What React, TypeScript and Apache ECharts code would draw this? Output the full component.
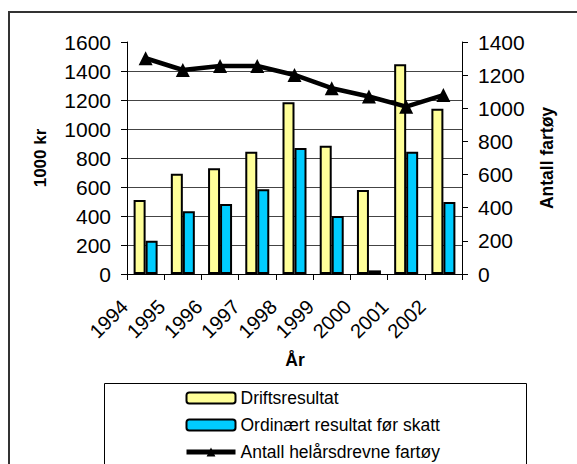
import React, { useEffect, useRef } from "react";
import * as echarts from "echarts";

const years = ["1994", "1995", "1996", "1997", "1998", "1999", "2000", "2001", "2002"];
const driftsresultat = [510, 692, 729, 843, 1184, 885, 579, 1446, 1140];
const ordinaertResultat = [230, 432, 483, 584, 869, 400, 25, 843, 497];
const antallFartoy = [1302, 1231, 1255, 1255, 1201, 1121, 1071, 1010, 1080];
const leftTicks = { min: 0, max: 1600, interval: 200 };
const rightTicks = { min: 0, max: 1400, interval: 200 };

const FONT = "Arial, 'Liberation Sans', sans-serif";

export default function App() {
  const ref = useRef<HTMLDivElement>(null);
  useEffect(() => {
    if (!ref.current) return;
    const chart = echarts.init(ref.current, null, { renderer: "svg" });
    const gridColors = ["#444", "#444", "#444", "#444", "#444", "#444", "#444", "#444", "transparent"];
    const plain = (v: number) => String(v);
    chart.setOption({
      animation: false,
      backgroundColor: "#fff",
      textStyle: { fontFamily: FONT },
      grid: { left: 127, right: 115, top: 42, bottom: 190, containLabel: false },
      xAxis: {
        type: "category",
        data: years,
        axisLine: { lineStyle: { color: "#000", width: 1 } },
        axisTick: { show: true, length: 6, lineStyle: { color: "#000" } },
        axisLabel: {
          rotate: 45,
          color: "#000",
          fontSize: 20,
          fontFamily: FONT,
          margin: 8,
          padding: [0, 30, 0, 0],
          interval: 0,
        },
      },
      yAxis: [
        {
          type: "value",
          min: leftTicks.min,
          max: leftTicks.max,
          interval: leftTicks.interval,
          axisLine: { show: true, lineStyle: { color: "#000" } },
          axisTick: { show: true, length: 6, lineStyle: { color: "#000" } },
          axisLabel: { color: "#000", fontSize: 21, fontFamily: FONT, margin: 16, formatter: plain },
          splitLine: { show: true, lineStyle: { color: gridColors, width: 1 } },
        },
        {
          type: "value",
          min: rightTicks.min,
          max: rightTicks.max,
          interval: rightTicks.interval,
          position: "right",
          axisLine: { show: true, lineStyle: { color: "#000" } },
          axisTick: { show: true, length: 6, lineStyle: { color: "#000" } },
          axisLabel: { color: "#000", fontSize: 21, fontFamily: FONT, margin: 16, formatter: plain },
          splitLine: { show: false },
        },
      ],
      legend: {
        orient: "vertical",
        left: 104,
        top: 383,
        height: 90,
        padding: [5, 0, 0, 80],
        itemWidth: 49,
        itemHeight: 11,
        itemGap: 7,
        selectedMode: false,
        textStyle: { color: "#000", fontSize: 17.5, lineHeight: 20, fontFamily: FONT },
        data: [
          "Driftsresultat",
          "Ordinært resultat før skatt",
          {
            name: "Antall helårsdrevne fartøy",
            lineStyle: { width: 5, color: "#000" },
            itemStyle: { color: "#000" },
          },
        ],
      },
      graphic: [
        {
          type: "rect",
          shape: { x: 9, y: 12, width: 600, height: 500 },
          style: { fill: "none", stroke: "#333", lineWidth: 2 },
          silent: true,
        },
        {
          type: "rect",
          shape: { x: 104.5, y: 383.5, width: 422, height: 120 },
          style: { fill: "none", stroke: "#000", lineWidth: 1 },
          silent: true,
        },
        {
          type: "text",
          x: 40,
          y: 158,
          rotation: Math.PI / 2,
          style: {
            text: "1000 kr",
            fontSize: 17,
            fontWeight: "bold",
            fontFamily: FONT,
            fill: "#000",
            align: "center",
            verticalAlign: "middle",
          },
        },
        {
          type: "text",
          x: 547,
          y: 158,
          rotation: Math.PI / 2,
          style: {
            text: "Antall fartøy",
            fontSize: 17.5,
            fontWeight: "bold",
            fontFamily: FONT,
            fill: "#000",
            align: "center",
            verticalAlign: "middle",
          },
        },
        {
          type: "text",
          x: 295,
          y: 360,
          style: {
            text: "År",
            fontSize: 17.5,
            fontWeight: "bold",
            fontFamily: FONT,
            fill: "#000",
            align: "center",
            verticalAlign: "middle",
          },
        },
      ],
      series: [
        {
          name: "Driftsresultat",
          type: "bar",
          data: driftsresultat,
          barWidth: 12,
          barGap: "0%",
          itemStyle: { color: "#FFFF99", borderColor: "#000", borderWidth: 2 },
        },
        {
          name: "Ordinært resultat før skatt",
          type: "bar",
          data: ordinaertResultat,
          barWidth: 12,
          barGap: "0%",
          itemStyle: { color: "#00CCFF", borderColor: "#000", borderWidth: 2 },
        },
        {
          name: "Antall helårsdrevne fartøy",
          type: "line",
          yAxisIndex: 1,
          data: antallFartoy,
          symbol: "triangle",
          symbolSize: 14,
          lineStyle: { color: "#000", width: 4.5 },
          itemStyle: { color: "#000" },
          z: 5,
        },
      ],
    });
    return () => chart.dispose();
  }, []);
  return (
    <div
      ref={ref}
      style={{ position: "fixed", left: 0, top: 0, width: 577, height: 464 }}
    />
  );
}
